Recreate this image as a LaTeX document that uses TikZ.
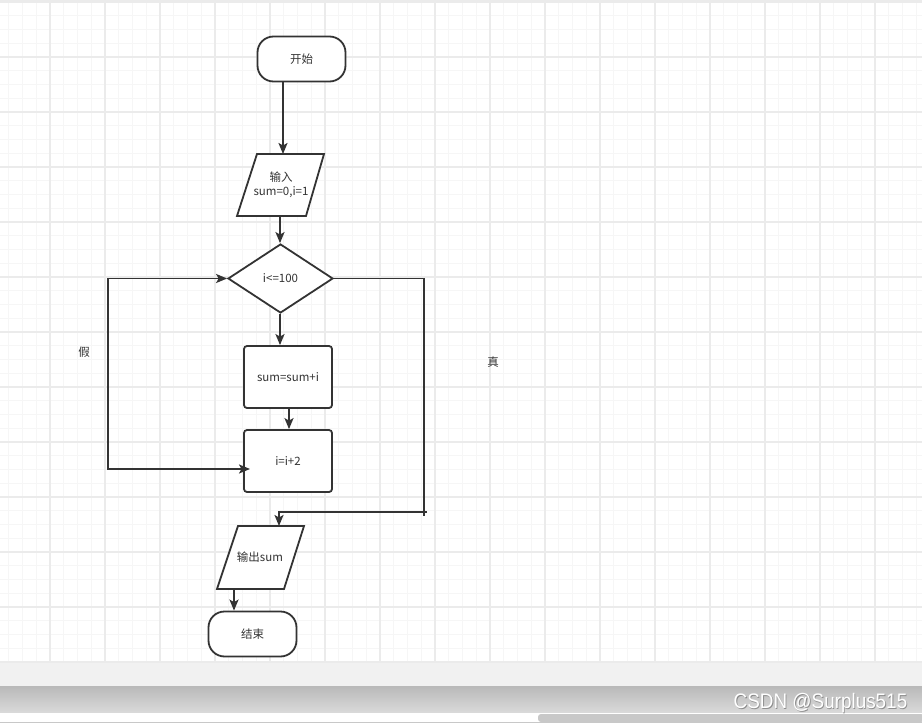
\documentclass[tikz,border=0pt]{standalone}
\usepackage{fontspec}
\newfontfamily\cjk{Noto Sans CJK SC}
\setmainfont{Liberation Sans}
\usetikzlibrary{shapes.geometric,arrows.meta}
\definecolor{ink}{HTML}{333333}
\definecolor{gminor}{HTML}{F6F6F6}
\definecolor{gmajor}{HTML}{EBEBEB}
\definecolor{chromelight}{HTML}{F1F1F1}
\definecolor{chrometop}{HTML}{B9B9B9}
\definecolor{chromebot}{HTML}{DADADA}
\definecolor{scroll}{HTML}{C8C8C8}
\tikzset{
  minorline/.style={gminor, line width=0.9pt},
  majorline/.style={gmajor, line width=1.1pt},
  shapeline/.style={draw=ink, line width=1.8pt, fill=white},
  terminal/.style={shapeline, rectangle, rounded corners=16pt, inner sep=0pt, minimum width=88pt, minimum height=45pt},
  procbox/.style={shapeline, rectangle, rounded corners=3pt, inner sep=0pt, minimum width=88pt, minimum height=62pt},
  decision/.style={shapeline, diamond, inner sep=0pt, minimum width=105pt, minimum height=69pt},
  txt/.style={text=ink, font=\cjk\fontsize{11.5}{14}\selectfont, align=center, inner sep=0pt},
  conn/.style={draw=ink, line width=1.9pt},
  arr/.style={conn, -{Stealth[length=11pt,width=9pt,inset=2.5pt]}},
  arrboth/.style={conn, {Stealth[length=11pt,width=9pt,inset=2.5pt]}-{Stealth[length=11pt,width=9pt,inset=2.5pt]}}
}
\begin{document}
\begin{tikzpicture}[x=1pt,y=-1pt]
\useasboundingbox (0,0) rectangle (922,725);
\fill[white] (0,0) rectangle (922,725);
% grid
\foreach \i in {0,...,66} { \draw[minorline] ({8.75+13.75*\i},3) -- ({8.75+13.75*\i},663); }
\foreach \j in {1,...,48} { \draw[minorline] (0,{2+13.75*\j}) -- (922,{2+13.75*\j}); }
\foreach \i in {0,...,15} { \draw[majorline] ({50+55*\i},3) -- ({50+55*\i},663); }
\foreach \j in {1,...,12} { \draw[majorline] (0,{2+55*\j}) -- (922,{2+55*\j}); }
\fill[gmajor] (0,0) rectangle (922,3);
% bottom chrome
\fill[chromelight] (0,663) rectangle (922,686);
\shade[top color=chrometop, bottom color=chromebot] (0,686) rectangle (922,713);
\fill[white] (0,713) rectangle (922,725);
\draw[scroll, line width=1pt] (0,722.5) -- (922,722.5);
\fill[scroll, rounded corners=3pt] (538,714) rectangle (924,722);
\node[text=gray!60!black, opacity=0.5, font=\fontsize{21}{21}\selectfont, inner sep=0pt] (wms) at (821.3,703.8) {\scalebox{0.9}[1]{CSDN @Surplus515}};
\node[text=white, font=\fontsize{21}{21}\selectfont, inner sep=0pt] (wm) at (820.5,703) {\scalebox{0.9}[1]{CSDN @Surplus515}};

% nodes
\node[terminal] (start) at (301.5,59) {};
\node[txt] (startt) at (start.center) {开始};

\draw[shapeline] (257,154) -- (324,154) -- (306,216) -- (237,216) -- cycle;
\node[txt] (in) at (281,185) {输入\\sum=0,i=1};
\coordinate (inT) at (283,154);
\coordinate (inB) at (280,216);

\node[decision] (cond) at (280.5,278.5) {};
\node[txt] (condt) at (cond.center) {i<=100};

\node[procbox] (s1) at (288,377) {};
\node[txt] (s1t) at (s1.center) {sum=sum+i};

\node[procbox] (s2) at (288,461) {};
\node[txt] (s2t) at (s2.center) {i=i+2};

\draw[shapeline] (238,526) -- (304,526) -- (284,589) -- (217,589) -- cycle;
\node[txt] (out) at (260,557) {输出sum};
\coordinate (outT) at (279,526);
\coordinate (outB) at (234,589);

\node[terminal] (end) at (252.5,634) {};
\node[txt] (endt) at (end.center) {结束};

% labels
\node[txt] (lf) at (84,352) {假};
\node[txt] (lt) at (493,362) {真};

% connectors
\coordinate (cx) at (280,0);
\coordinate (sx) at (289,0);
\draw[arr] (start.south -| inT) -- (inT);
\draw[arr] (inB) -- (inB |- cond.north);
\draw[arr] (cond.south -| cx) -- (s1.north -| cx);
\draw[arr] (s1.south -| sx) -- (s2.north -| sx);
\coordinate (s2in) at (250,469);
\coordinate (loopL) at (108,278.5);
\draw[arrboth] (s2in) -| (loopL) -- (cond.west);
\coordinate (rc) at (424,516);
\coordinate (rt) at (427,512);
\draw[conn] (cond.east) -| (rc);
\draw[arr] (rt) -| (outT);
\draw[arr] (outB) -- (outB |- end.north);
\end{tikzpicture}
\end{document}
